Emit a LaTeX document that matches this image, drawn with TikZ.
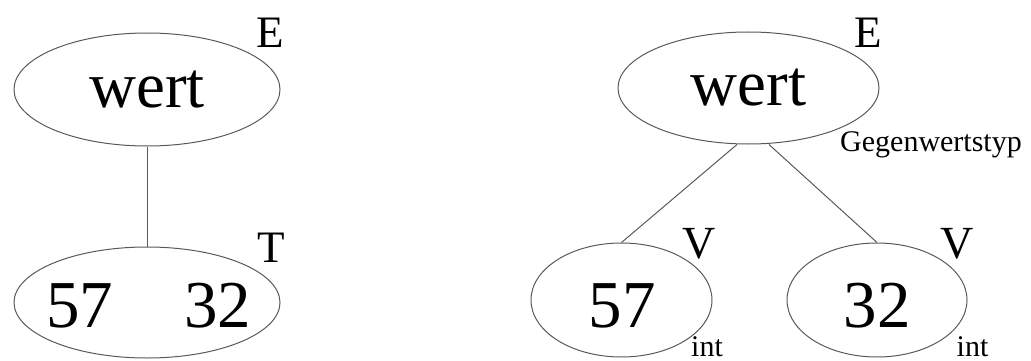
\documentclass[tikz,border=0pt]{standalone}
\usepackage{fontspec}
\setmainfont{Liberation Serif}
\usetikzlibrary{shapes.geometric,calc}
\begin{document}
\begin{tikzpicture}[x=1pt,y=-1pt,
  oval/.style={ellipse,draw=black!65,line width=1pt,inner sep=0pt},
  big/.style={font=\fontsize{65}{70}\selectfont},
  num/.style={font=\fontsize{67}{70}\selectfont,anchor=base,inner sep=0pt},
  tag/.style={font=\fontsize{45}{50}\selectfont,anchor=base,inner sep=0pt},
  small/.style={font=\fontsize{30}{32}\selectfont,inner sep=0pt},
  edge/.style={draw=black!65,line width=1pt}]
\useasboundingbox (0,0) rectangle (1031,361);

% left tree: one node holding both values
\node[oval,big,minimum width=266pt,minimum height=113pt] (L1) at (147,89.5) {wert};
\node[oval,minimum width=266pt,minimum height=111pt] (L2) at (147,302.5) {};
\node[num] (L2a) at (79.5,327) {57};
\node[num] (L2b) at (217.5,327) {32};
\node[tag] (LE) at (270,48) {E};
\node[tag] (LT) at (271.5,262) {T};
\draw[edge] (L1.south) -- (L2.north);

% right tree: one node per value
\node[oval,big,minimum width=261pt,minimum height=112pt] (R1) at (748.5,88) {wert};
\node[oval,minimum width=181pt,minimum height=114pt] (R2) at (621.5,300) {};
\node[oval,minimum width=180pt,minimum height=114pt] (R3) at (877,300) {};
\node[num] (R2t) at (622,327) {57};
\node[num] (R3t) at (877,327) {32};
\node[tag] (RE) at (868,48) {E};
\node[small,anchor=base west] (RG) at (840,151) {Gegenwertstyp};
\node[tag,font=\fontsize{46}{50}\selectfont] (RV1) at (699,258) {V};
\node[tag,font=\fontsize{46}{50}\selectfont] (RV2) at (957.5,258) {V};
\node[small,anchor=base] (RI1) at (707,356) {int};
\node[small,anchor=base] (RI2) at (972.5,356) {int};
\coordinate (R1l) at ($(R1.south)+(-11.5,0)$);
\coordinate (R1r) at ($(R1.south)+(20.5,0)$);
\draw[edge] (R1l) -- (R2.north);
\draw[edge] (R1r) -- (R3.north);
\end{tikzpicture}
\end{document}
